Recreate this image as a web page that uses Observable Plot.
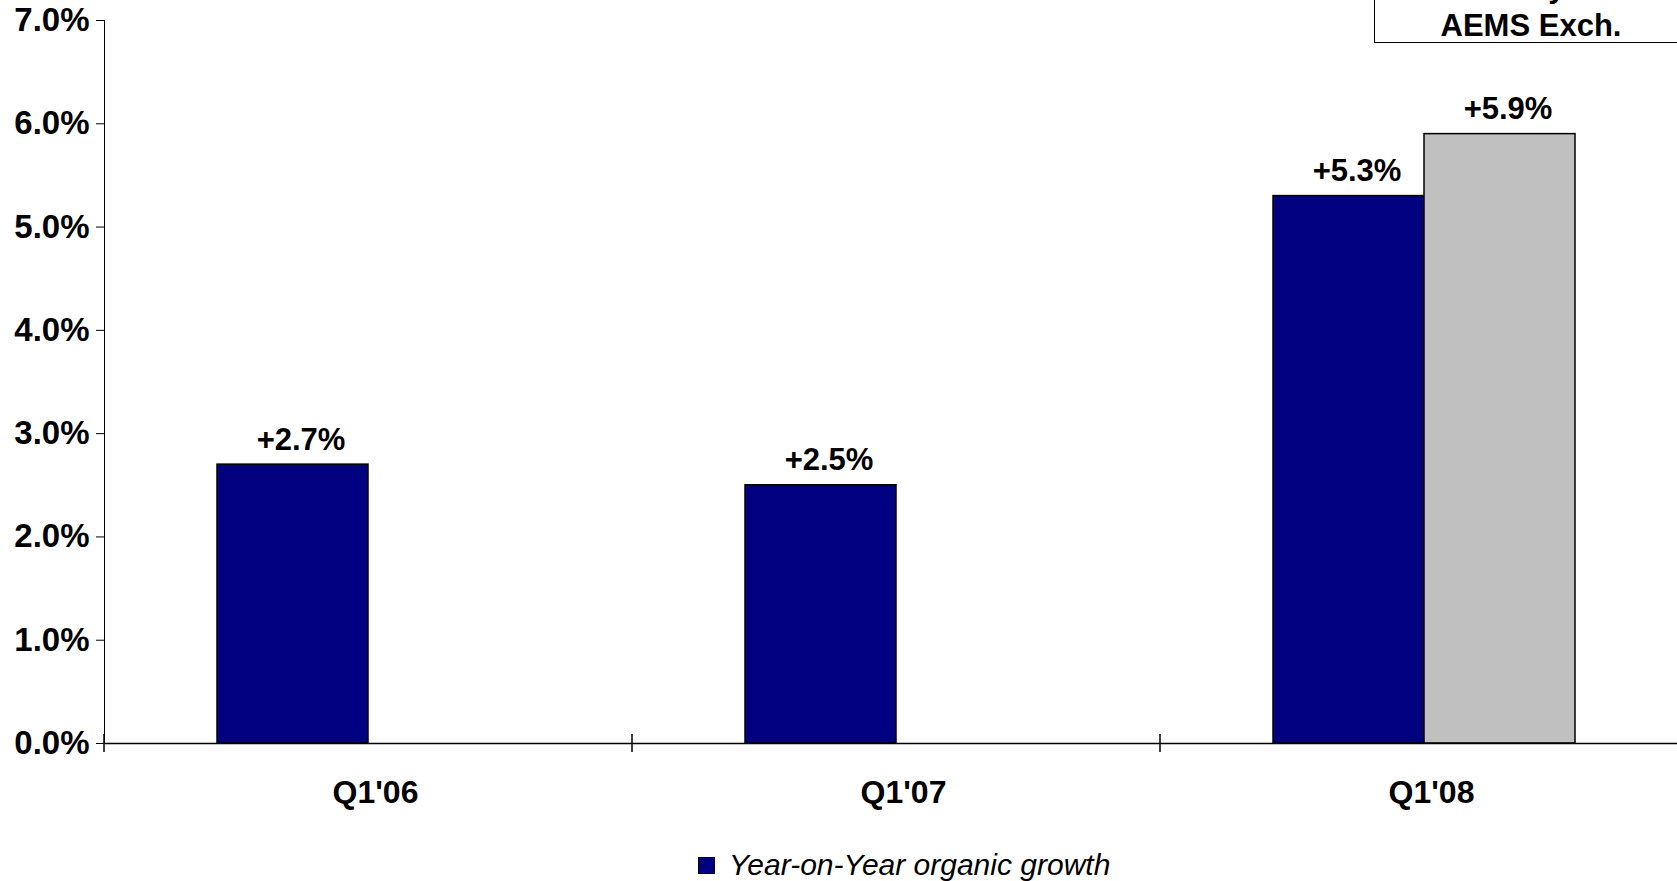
<!DOCTYPE html>
<html>
<head>
<meta charset="utf-8">
<script src="https://cdn.jsdelivr.net/npm/d3@7"></script>
<script src="https://cdn.jsdelivr.net/npm/@observablehq/plot@0.6"></script>
<style>
  html, body { margin: 0; padding: 0; overflow: hidden; background: #fff; width: 1677px; height: 881px; }
  body { position: relative; font-family: "Liberation Sans", Arial, sans-serif; }
  #chart { position: absolute; left: 0; top: 0; }
  #note {
    position: absolute; left: 1374px; top: -70px; width: 314px; height: 113px;
    box-sizing: border-box; border: 1.5px solid #000; background: #fff;
    display: flex; flex-direction: column; justify-content: flex-end; align-items: center;
    font-weight: bold; font-size: 31px; line-height: 33px; padding-bottom: 0.5px; color: #000;
  }
  #note .l1 { margin-bottom: 6px; }
  #legend {
    position: absolute; left: 698px; top: 850px; display: flex; align-items: center; gap: 14px;
    font-style: italic; font-size: 30px; line-height: 30px; color: #000;
  }
  #legend .sw { width: 17px; height: 17px; background: #000080; border: 1px solid #000; box-sizing: border-box; }
</style>
</head>
<body>
<div id="chart"></div>
<div id="note"><div class="l1">Only</div><div>AEMS Exch.</div></div>
<div id="legend"><div class="sw"></div><div>Year-on-Year organic growth</div></div>
<script>
const categories = ["Q1'06", "Q1'07", "Q1'08"];
const seriesNames = ["Year-on-Year organic growth", "AEMS Exch."];
const organicGrowth = [2.7, 2.5, 5.3];
const aemsExch = [null, null, 5.9];
const yTicks = [0, 1, 2, 3, 4, 5, 6, 7];
const seriesColors = ["#000080", "#c0c0c0"];

const data = [];
categories.forEach((c, i) => {
  data.push({category: c, series: seriesNames[0], value: organicGrowth[i]});
  if (aemsExch[i] != null) data.push({category: c, series: seriesNames[1], value: aemsExch[i]});
});

const chart = Plot.plot({
  width: 1700,
  height: 830,
  marginLeft: 104,
  marginRight: 12,
  marginTop: 20,
  marginBottom: 87,
  style: {fontFamily: "'Liberation Sans', Arial, sans-serif", fontSize: "32px", fontWeight: "bold", color: "#000", background: "white", overflow: "visible", maxWidth: "none"},
  facet: {data, x: "category"},
  fx: {domain: categories, padding: 0, label: null, tickSize: 0, tickPadding: 37},
  x: {domain: seriesNames, paddingInner: 0, paddingOuter: 0.748, axis: null},
  y: {domain: [0, 7], ticks: yTicks, tickFormat: d => d.toFixed(1) + "%", label: null, tickSize: 8, tickPadding: 7, line: true},
  color: {domain: seriesNames, range: seriesColors},
  marks: [
    Plot.barY(data, {x: "series", y: "value", fill: "series", stroke: "#000", strokeWidth: 1.5}),
    Plot.ruleY([0], {stroke: "#000", strokeWidth: 1.5}),
    Plot.text(data, {x: "series", y: "value", text: d => "+" + d.value.toFixed(1) + "%", lineAnchor: "bottom", dy: -15, dx: 8, fontSize: 31, fontWeight: "bold", fill: "#000"})
  ]
});
chart.style.maxWidth = "none";
document.getElementById("chart").appendChild(chart);

const svg = d3.select(chart);
// slightly larger y tick labels, category labels nudged right as in the reference
svg.selectAll('[aria-label^="y-axis"]').style("font-size", "33px");
svg.selectAll('[aria-label^="fx-axis"] text').attr("dx", 7);

// category boundary ticks on the x axis, from the plot's own scales
try {
  const fxS = chart.scale("fx");
  const yS = chart.scale("y");
  const band = d3.scaleBand().domain(fxS.domain).range(fxS.range).padding(0);
  const yLin = d3.scaleLinear().domain(yS.domain).range(yS.range);
  const y0 = yLin(0);
  const bounds = fxS.domain.map(c => band(c)).concat([band(fxS.domain[fxS.domain.length - 1]) + band.bandwidth()]);
  const g = svg.append("g").attr("stroke", "#000").attr("stroke-width", 1.5);
  g.selectAll("line").data(bounds).join("line")
    .attr("x1", d => d).attr("x2", d => d)
    .attr("y1", y0 - 9).attr("y2", y0 + 9);
} catch (e) { console.error(e); }
</script>
</body>
</html>
